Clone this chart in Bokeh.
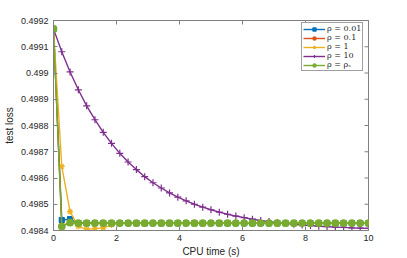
from bokeh.plotting import figure
from bokeh.models import Range1d, FixedTicker, CustomJSTickFormatter, Legend, LegendItem
from bokeh.embed import file_html
from bokeh.resources import INLINE
import math

# CPU time (s) of each iterate
t = [0.0, 0.263, 0.526, 0.789, 1.053, 1.316, 1.579, 1.842, 2.105, 2.368,
     2.632, 2.895, 3.158, 3.421, 3.684, 3.947, 4.211, 4.474, 4.737, 5.0,
     5.263, 5.526, 5.789, 6.053, 6.316, 6.579, 6.842, 7.105, 7.368, 7.632,
     7.895, 8.158, 8.421, 8.684, 8.947, 9.211, 9.474, 9.737, 10.0]

flat = 0.498428
loss_001 = [0.499168, 0.498440, 0.498443] + [flat] * 36
loss_01 = [0.499168, 0.498418, 0.498430] + [flat] * 36
loss_1 = [0.499168, 0.498644, 0.498472, 0.498415, 0.498405, 0.498407,
          0.498410, 0.498421] + [flat] * 31
loss_10 = [0.499168, 0.499081, 0.499004, 0.498936, 0.498875, 0.498822,
           0.498774, 0.498732, 0.498694, 0.498661, 0.498632, 0.498605,
           0.498582, 0.498562, 0.498543, 0.498527, 0.498513, 0.498500,
           0.498489, 0.498479, 0.498470, 0.498462, 0.498455, 0.498449,
           0.498443, 0.498438, 0.498434, 0.498430, 0.498427, 0.498424,
           0.498421, 0.498419, 0.498416, 0.498415, 0.498413, 0.498412,
           0.498410, 0.498409, 0.498408]
loss_s = [0.499168, 0.498415, 0.498430] + [flat] * 36

labels = ["ρ = 0.01", "ρ = 0.1", "ρ = 1", "ρ = 10", "ρ = ρₛ"]
x_ticks = [0, 2, 4, 6, 8, 10]
y_ticks = [0.4984, 0.4985, 0.4986, 0.4987, 0.4988, 0.4989, 0.4990, 0.4991, 0.4992]

axis_col = "#808080"
lab_col = "#262626"
X_MIN, X_MAX = 0, 10
Y_MIN, Y_MAX = 0.4984, 0.4992

p = figure(frame_width=315, frame_height=210, output_backend="svg",
           toolbar_location=None, x_range=Range1d(X_MIN, X_MAX),
           y_range=Range1d(Y_MIN, Y_MAX),
           min_border_left=53, min_border_right=31, min_border_top=20,
           min_border_bottom=28)
p.xgrid.visible = False
p.ygrid.visible = False
p.outline_line_color = axis_col
p.background_fill_color = "white"

# mirrored inward ticks on the right and top edges of the box (clipped to frame)
p.scatter([X_MAX] * len(y_ticks), y_ticks, marker="dash", size=8,
          line_color=axis_col, line_width=1)
p.scatter(x_ticks, [Y_MAX] * len(x_ticks), marker="dash", size=8, angle=math.pi / 2,
          line_color=axis_col, line_width=1)

series = [
    (loss_001, "#0072BD", "square", 5),
    (loss_01, "#D95319", "circle", 5),
    (loss_1, "#EDB120", "asterisk", 6),
    (loss_10, "#7E2F8E", "cross", 7),
    (loss_s, "#77AC30", "circle", 6.5),
]
items = []
for (vals, col, mk, sz), lab in zip(series, labels):
    r1 = p.line(t, vals, line_color=col, line_width=1.4)
    r2 = p.scatter(t, vals, marker=mk, size=sz, line_color=col,
                   fill_color=col, line_width=1.2)
    items.append(LegendItem(label=lab, renderers=[r1, r2]))

leg = Legend(items=items, location=(248, 159))
leg.label_text_font = "DejaVu Serif"
leg.label_text_font_size = "8px"
leg.label_text_color = lab_col
leg.label_height = 8
leg.glyph_height = 8
leg.glyph_width = 22
leg.label_standoff = 2
leg.spacing = 0
leg.padding = 1
leg.margin = 0
leg.border_line_color = "#404040"
leg.border_line_width = 1
leg.background_fill_alpha = 1
p.add_layout(leg)

for ax in (p.xaxis[0], p.yaxis[0]):
    ax.axis_line_color = axis_col
    ax.major_tick_line_color = axis_col
    ax.minor_tick_line_color = None
    ax.major_tick_in = 4
    ax.major_tick_out = 0
    ax.major_label_text_font = "Liberation Sans"
    ax.major_label_text_font_size = "9px"
    ax.major_label_text_color = lab_col
    ax.axis_label_text_font = "Liberation Sans"
    ax.axis_label_text_font_size = "10px"
    ax.axis_label_text_font_style = "normal"
    ax.axis_label_text_color = lab_col

p.xaxis.ticker = FixedTicker(ticks=x_ticks)
p.yaxis.ticker = FixedTicker(ticks=y_ticks)
p.yaxis.formatter = CustomJSTickFormatter(
    code="return tick.toFixed(4).replace(/0+$/, '');")
p.xaxis.axis_label = "CPU time (s)"
p.yaxis.axis_label = "test loss"
p.xaxis.major_label_standoff = 4
p.yaxis.major_label_standoff = 5
p.xaxis.axis_label_standoff = 2
p.yaxis.axis_label_standoff = 3

open("out.html", "w").write(file_html(p, INLINE))
